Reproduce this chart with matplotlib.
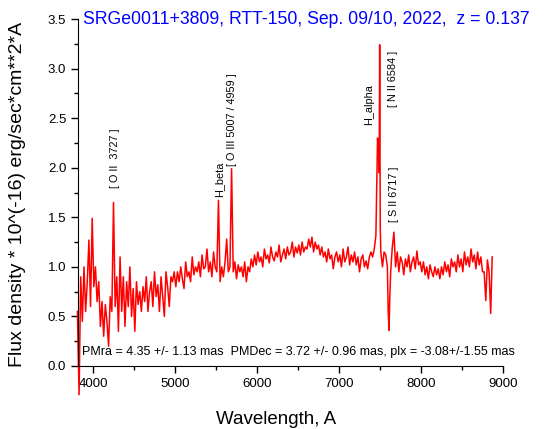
import numpy as np
import matplotlib
matplotlib.use("Agg")
import matplotlib.pyplot as plt
from matplotlib.ticker import MultipleLocator, FormatStrFormatter

plt.rcParams['font.family'] = ['Liberation Sans', 'DejaVu Sans']

# spectrum sampled every 20 A from 3810 to 8850
wave = np.arange(3810, 8851, 20)
flux = [
    0.55, -0.29, 0.90, 0.45, 1.00, 0.55, 0.85, 1.27, 0.60, 1.49,   # 3810
    0.80, 1.00, 0.65, 0.85, 0.40, 0.65, 0.30, 0.62, 0.45, 0.20,    # 4010
    0.70, 0.55, 1.65, 0.60, 0.90, 0.35, 1.10, 0.55, 0.90, 0.40,    # 4210
    0.85, 0.60, 1.00, 0.50, 0.78, 0.35, 0.85, 0.62, 0.75, 0.55,    # 4410
    0.80, 0.65, 0.90, 0.55, 0.75, 0.85, 0.60, 0.95, 0.70, 0.82,    # 4610
    0.55, 0.90, 0.70, 0.50, 0.95, 0.80, 0.60, 0.90, 0.85, 0.95,    # 4810
    0.80, 0.95, 0.85, 1.00, 0.88, 0.78, 1.05, 0.90, 0.95, 0.85,    # 5010
    1.10, 0.92, 1.00, 0.95, 1.05, 0.90, 1.12, 0.98, 1.00, 1.18,    # 5210
    0.95, 1.05, 0.90, 1.15, 1.00, 0.95, 1.67, 0.85, 1.00, 0.90,    # 5410
    1.05, 1.28, 0.95, 1.00, 1.99, 0.95, 1.05, 0.88, 1.02, 0.95,    # 5610
    1.00, 0.90, 1.05, 0.85, 1.00, 0.95, 1.08, 1.00, 1.12, 1.02,    # 5810
    1.15, 1.05, 1.10, 1.00, 1.18, 1.08, 1.12, 1.04, 1.20, 1.10,    # 6010
    1.06, 1.15, 1.10, 1.22, 1.05, 1.12, 1.18, 1.08, 1.20, 1.12,    # 6210
    1.15, 1.25, 1.10, 1.20, 1.14, 1.22, 1.12, 1.25, 1.15, 1.20,    # 6410
    1.18, 1.28, 1.20, 1.30, 1.15, 1.25, 1.18, 1.22, 1.12, 1.20,    # 6610
    1.10, 1.15, 1.05, 1.18, 1.08, 1.12, 0.98, 1.10, 1.15, 1.05,    # 6810
    1.12, 1.00, 1.18, 1.05, 1.10, 1.20, 1.02, 1.12, 1.05, 1.15,    # 7010
    1.02, 1.10, 0.95, 1.08, 1.12, 1.00, 1.06, 0.98, 1.10, 1.15,    # 7210
    1.10, 1.18, 1.32, 2.30, 1.95, 1.15, 1.00, 1.15, 1.12, 1.00,    # 7410
    0.36, 0.95, 1.20, 1.35, 1.00, 1.15, 0.95, 1.10, 1.05, 0.92,    # 7610
    1.08, 1.00, 1.12, 0.95, 1.05, 1.10, 0.98, 1.16, 1.02, 1.05,    # 7810
    0.95, 1.05, 0.92, 1.00, 0.88, 1.02, 0.95, 0.90, 1.00, 0.92,    # 8010
    0.98, 0.88, 1.00, 0.92, 1.05, 0.95, 1.02, 0.90, 1.08, 1.00,    # 8210
    1.05, 0.95, 1.12, 1.00, 1.08, 0.95, 1.15, 1.02, 1.10, 1.00,    # 8410
    1.18, 1.05, 1.12, 0.98, 1.15, 1.02, 1.10, 0.95, 0.95, 0.66,    # 8610
    1.07, 0.95, 0.53,                                              # 8810
]
# extra samples inside narrow features
extra_wave = [7478, 7496, 7503, 7600, 7620, 8868]
extra_flux = [2.22, 3.24, 1.40, 0.55, 0.70, 1.10]

lines_text = ["[ O II  3727 ]", "H_beta", "[ O III 5007 / 4959 ]",
              "H_alpha", "[ N II 6584 ]", "[ S II 6717 ]"]
lines_x = [4268, 5537, 5695, 7366, 7659, 7671]
lines_y = [1.80, 1.705, 2.02, 2.43, 2.61, 1.45]

title = "SRGe0011+3809, RTT-150, Sep. 09/10, 2022,  z = 0.137"
note = "PMra = 4.35 +/- 1.13 mas  PMDec = 3.72 +/- 0.96 mas, plx = -3.08+/-1.55 mas"

w = np.concatenate([wave, extra_wave])
f = np.concatenate([flux, extra_flux])
order = np.argsort(w)
w, f = w[order], f[order]

fig = plt.figure(figsize=(5.49, 4.29), dpi=100)
ax = fig.add_axes([78/549, 1-366/429, (503-78)/549, (366-19)/429])
ax.plot(w, f, color='red', lw=1.1, clip_on=False)

ax.set_xlim(3817, 9000)
ax.set_ylim(0, 3.5)
ax.xaxis.set_major_locator(MultipleLocator(1000))
ax.xaxis.set_minor_locator(MultipleLocator(500))
ax.yaxis.set_major_locator(MultipleLocator(0.5))
ax.yaxis.set_minor_locator(MultipleLocator(0.25))
ax.yaxis.set_major_formatter(FormatStrFormatter('%.1f'))
ax.tick_params(which='major', direction='out', length=5, width=1, labelsize=9.5)
ax.tick_params(which='minor', direction='out', length=3, width=1)
ax.spines['top'].set_visible(False)
ax.spines['right'].set_visible(False)

for t, x, y in zip(lines_text, lines_x, lines_y):
    ax.text(x, y, t, rotation=90, ha='center', va='bottom', fontsize=7.8)

ax.text(3866, 0.14, note, ha='left', va='center', fontsize=9)

fig.text(83/549, 1-20/429, title, ha='left', va='center', color='#0000ff', fontsize=12.7)
fig.text(18/549, 1-194.5/429, "Flux density * 10^(-16) erg/sec*cm**2*A",
         rotation=90, ha='center', va='center', fontsize=14)
fig.text(276/549, 1-420/429, "Wavelength, A", ha='center', va='center', fontsize=13.5)

fig.savefig("out.png", dpi=100)
